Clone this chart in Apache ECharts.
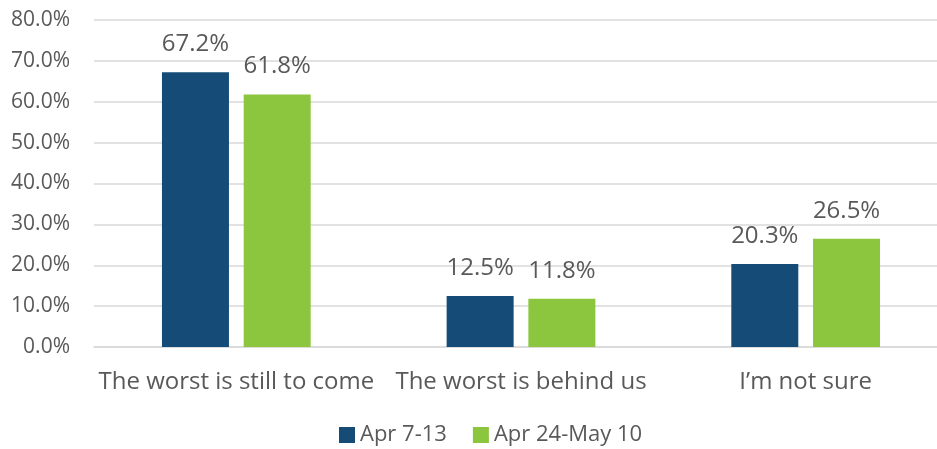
<!DOCTYPE html>
<html>
<head>
<meta charset="utf-8">
<script src="https://cdn.jsdelivr.net/npm/echarts@6/dist/echarts.min.js"></script>
<style>html,body{margin:0;padding:0;background:#fff;overflow:hidden;width:937px;height:449px;}#c{width:948px;height:449px;}</style>
</head>
<body>
<div id="c"></div>
<script>
const categories = ["The worst is still to come", "The worst is behind us", "I\u2019m not sure"];
const seriesNames = ["Apr 7-13", "Apr 24-May 10"];
const apr7to13 = [67.2, 12.5, 20.3];
const apr24toMay10 = [61.8, 11.8, 26.5];
const colors = ["#144C77", "#8CC63F"];
const FONT = "Open Sans";
const TXT = "#595959";

const chart = echarts.init(document.getElementById('c'));
function mk(name, data, color) {
  return {
    name: name, type: 'bar', data: data,
    barWidth: 67, barGap: '22%',
    itemStyle: { color: color },
    label: {
      show: true, position: 'top', distance: 16,
      formatter: p => p.value.toFixed(1) + '%',
      color: TXT, fontFamily: FONT, fontSize: 24
    }
  };
}
chart.setOption({
  animation: false,
  textStyle: { fontFamily: FONT },
  grid: { left: 94, top: 20, right: 0, height: 327, containLabel: false },
  legend: {
    top: 424, left: 339, padding: 0, itemWidth: 16, itemHeight: 16, itemGap: 26,
    icon: 'rect',
    textStyle: { color: TXT, fontFamily: FONT, fontSize: 22 },
    data: seriesNames
  },
  xAxis: {
    type: 'category', data: categories,
    axisLine: { show: true, lineStyle: { color: '#D9D9D9', width: 1.5 } },
    axisTick: { show: false },
    axisLabel: { color: TXT, fontFamily: FONT, fontSize: 24, margin: 23, interval: 0 }
  },
  yAxis: {
    type: 'value', min: 0, max: 80, interval: 10,
    axisLine: { show: false }, axisTick: { show: false },
    splitLine: { lineStyle: { color: '#D9D9D9', width: 1.5 } },
    axisLabel: { color: TXT, fontFamily: FONT, fontSize: 21, margin: 24, formatter: v => v.toFixed(1) + '%' }
  },
  series: [mk(seriesNames[0], apr7to13, colors[0]), mk(seriesNames[1], apr24toMay10, colors[1])]
});
</script>
</body>
</html>
